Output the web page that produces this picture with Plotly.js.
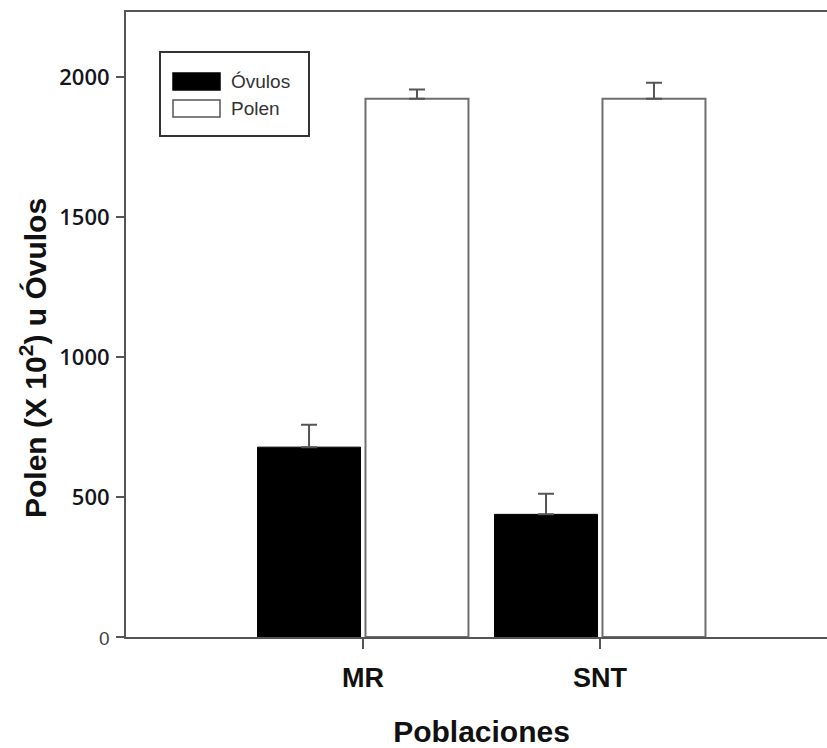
<!DOCTYPE html>
<html>
<head>
<meta charset="utf-8">
<script src="https://cdn.plot.ly/plotly-3.0.1.min.js"></script>
<style>
html,body{margin:0;padding:0;overflow:hidden;background:#fff;}
#chart{width:837px;height:748px;}
</style>
</head>
<body>
<div id="chart"></div>
<script>
// ---- data ----
const categories = ["MR", "SNT"];
const seriesNames = ["Óvulos", "Polen"];
const ovulos = [678, 438];
const ovulosErr = [80, 74];
const polen = [1922, 1922];
const polenErr = [33, 57];
const yTickVals = [0, 500, 1000, 1500, 2000];
const yTickLabels = ["0", "500", "1000", "1500", "2000"];

const xIdx = categories.map((c, i) => i);

const traces = [
  {
    type: "bar", name: seriesNames[0], x: xIdx, y: ovulos,
    marker: {color: "#000000", line: {color: "#000000", width: 1}},
    error_y: {type: "data", array: ovulosErr, arrayminus: ovulos.map(() => 0), symmetric: false,
              color: "#555555", thickness: 2, width: 8},
    showlegend: false
  },
  {
    type: "bar", name: seriesNames[1], x: xIdx, y: polen,
    marker: {color: "#ffffff", line: {color: "#6e6e6e", width: 2}},
    error_y: {type: "data", array: polenErr, arrayminus: polen.map(() => 0), symmetric: false,
              color: "#555555", thickness: 2, width: 8},
    showlegend: false
  }
];

// plot area pixel geometry (for legend placement helpers)
const L = 126, T = 12, W = 711, H = 625;
const px = v => (v - L) / W;
const py = v => (T + H - v) / H;

const yTickText = yTickLabels.map((t, i) => i === 0
  ? '<span style="font-family:Liberation Sans Narrow, Liberation Sans, sans-serif;font-weight:normal;font-size:19px;color:#444">' + t + '</span>'
  : t);

const layout = {
  width: 837, height: 748,
  margin: {l: L, r: 0, t: T, b: 748 - T - H, pad: 0},
  paper_bgcolor: "#fff", plot_bgcolor: "#fff",
  barmode: "group", bargap: 0.089, bargroupgap: 0.046,
  showlegend: false,
  xaxis: {
    range: [-1, 2], tickvals: xIdx, ticktext: categories,
    showline: true, linecolor: "#555", linewidth: 2, mirror: true,
    ticks: "outside", ticklen: 10, tickwidth: 1.5, tickcolor: "#555",
    showgrid: false, zeroline: false,
    tickfont: {family: "Liberation Sans, Arial, sans-serif", size: 27, color: "#111", weight: "bold"},
    ticklabelstandoff: 6,
    title: {text: "Poblaciones", standoff: 31,
            font: {family: "Liberation Sans, Arial, sans-serif", size: 30, color: "#111", weight: "bold"}}
  },
  yaxis: {
    range: [0, 2232], tickvals: yTickVals, ticktext: yTickText,
    showline: true, linecolor: "#555", linewidth: 2, mirror: false,
    ticks: "outside", ticklen: 8, tickwidth: 1.5, tickcolor: "#555",
    showgrid: false, zeroline: false,
    tickfont: {family: "Open Sans, sans-serif", size: 22, color: "#151520", weight: 600},
    ticklabelstandoff: 2
  },
  shapes: [
    {type: "rect", xref: "paper", yref: "paper", x0: px(160), x1: px(309), y0: py(136), y1: py(52),
     line: {color: "#333", width: 2}, fillcolor: "rgba(0,0,0,0)"},
    {type: "rect", xref: "paper", yref: "paper", x0: px(173), x1: px(220), y0: py(90), y1: py(73),
     line: {color: "#000", width: 1.5}, fillcolor: "#000"},
    {type: "rect", xref: "paper", yref: "paper", x0: px(173), x1: px(220), y0: py(117), y1: py(100),
     line: {color: "#555", width: 1.5}, fillcolor: "#fff"}
  ],
  annotations: [
    {xref: "paper", yref: "paper", x: px(229), y: py(81.5), xanchor: "left", yanchor: "middle",
     text: seriesNames[0], showarrow: false,
     font: {family: "Liberation Sans, Arial, sans-serif", size: 19, color: "#333"}},
    {xref: "paper", yref: "paper", x: px(229), y: py(108.5), xanchor: "left", yanchor: "middle",
     text: seriesNames[1], showarrow: false,
     font: {family: "Liberation Sans, Arial, sans-serif", size: 19, color: "#333"}},
    {xref: "paper", yref: "paper", x: px(33), y: py(358), xanchor: "center", yanchor: "middle",
     textangle: -90, showarrow: false,
     text: "Polen (X 10<sup>2</sup>) u Óvulos",
     font: {family: "Liberation Sans, Arial, sans-serif", size: 30, color: "#111", weight: "bold"}}
  ]
};

Plotly.newPlot("chart", traces, layout, {displayModeBar: false, staticPlot: true});
</script>
</body>
</html>
